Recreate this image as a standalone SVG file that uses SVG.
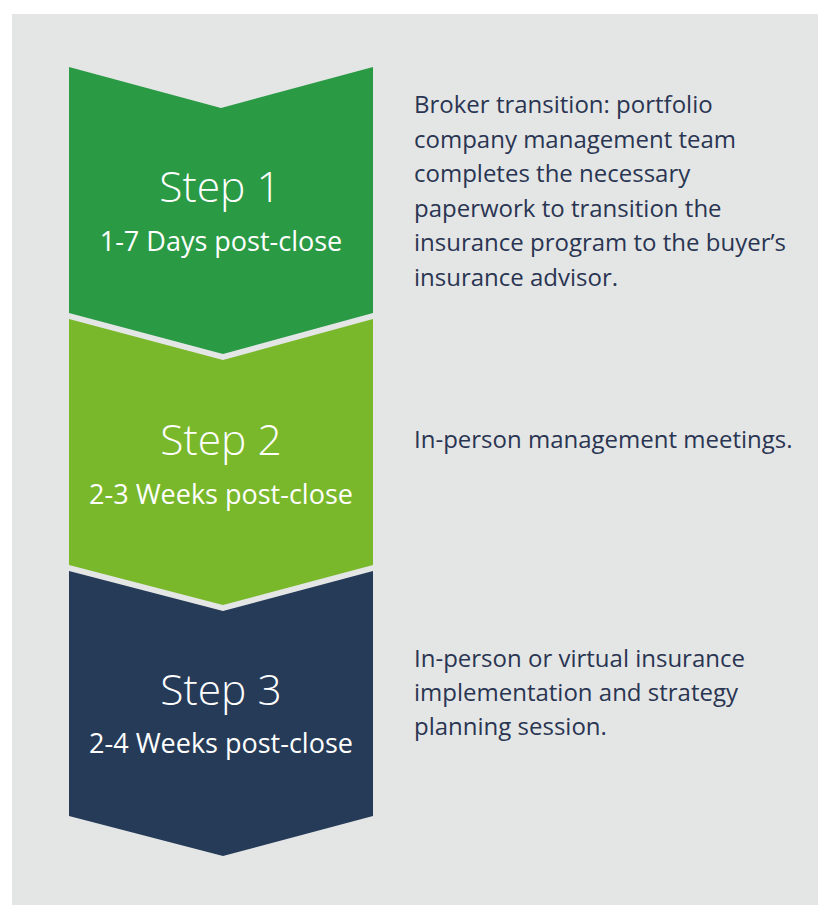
<svg xmlns="http://www.w3.org/2000/svg" width="818" height="905" viewBox="0 0 818 905">
<style>
.step{font-family:"Open Sans","Noto Sans",sans-serif;font-weight:300;font-size:42.5px;fill:#ffffff;text-anchor:middle}
.sub{font-family:"Open Sans","Noto Sans",sans-serif;font-weight:400;font-size:27px;fill:#ffffff;text-anchor:middle}
.desc{font-family:"Open Sans","Noto Sans",sans-serif;font-weight:400;font-size:24px;fill:#2a3552}
</style>
<rect x="0" y="0" width="818" height="905" fill="#ffffff"/>
<rect x="12" y="14" width="806" height="891" fill="#e4e6e6"/>
<g id="step1">
<polygon points="69,67 221,108 373,67 373,313 223,354 69,313" fill="#2a9a45"/>
<text class="step" x="220" y="202">Step 1</text>
<text class="sub" x="221" y="251">1-7 Days post-close</text>
<text class="desc" x="414"><tspan x="414" y="113">Broker transition: portfolio</tspan><tspan x="414" y="147.5">company management team</tspan><tspan x="414" y="182">completes the necessary</tspan><tspan x="414" y="216.5">paperwork to transition the</tspan><tspan x="414" y="251">insurance program to the buyer’s</tspan><tspan x="414" y="285.5">insurance advisor.</tspan></text>
</g>
<g id="step2">
<polygon points="69,319 223,360 373,319 373,565 223,605 69,565" fill="#79b82b"/>
<text class="step" x="221" y="455">Step 2</text>
<text class="sub" x="221" y="504">2-3 Weeks post-close</text>
<text class="desc" x="414" y="448">In-person management meetings.</text>
</g>
<g id="step3">
<polygon points="69,571 223,611 373,571 373,816 223,856 69,816" fill="#263b58"/>
<text class="step" x="221" y="705">Step 3</text>
<text class="sub" x="221" y="753">2-4 Weeks post-close</text>
<text class="desc" x="414"><tspan x="414" y="667">In-person or virtual insurance</tspan><tspan x="414" y="701">implementation and strategy</tspan><tspan x="414" y="735">planning session.</tspan></text>
</g>
<g id="connectors"></g>
</svg>
